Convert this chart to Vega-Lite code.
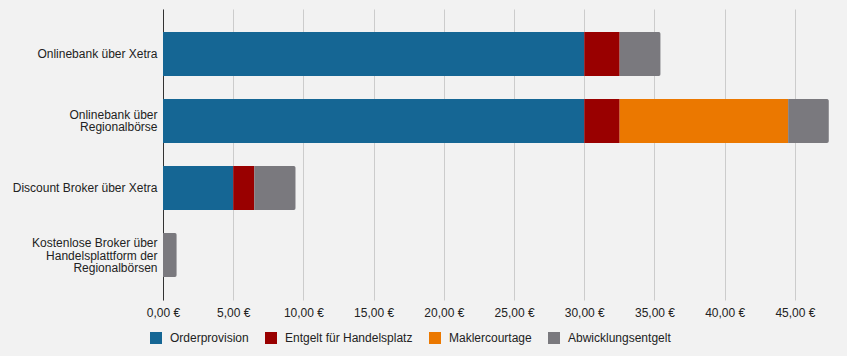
{
  "$schema": "https://vega.github.io/schema/vega-lite/v6.json",
  "width": 667,
  "height": 291,
  "autosize": "none",
  "padding": {"left": 163, "top": 9, "right": 17, "bottom": 56},
  "background": "#f2f2f2",
  "config": {
    "view": {"stroke": null},
    "font": "Liberation Sans",
    "axis": {"labelFont": "Liberation Sans", "labelFontSize": 12, "labelColor": "#222222"},
    "legend": {"labelFont": "Liberation Sans", "labelFontSize": 12, "labelColor": "#222222"}
  },
  "data": {
    "values": [
      {"kat": "Onlinebank über Xetra", "art": "Orderprovision", "nr": 1, "wert": 30.0},
      {"kat": "Onlinebank über Xetra", "art": "Entgelt für Handelsplatz", "nr": 2, "wert": 2.52},
      {"kat": "Onlinebank über Xetra", "art": "Abwicklungsentgelt", "nr": 4, "wert": 2.92},
      {"kat": "Onlinebank über Regionalbörse", "art": "Orderprovision", "nr": 1, "wert": 30.0},
      {"kat": "Onlinebank über Regionalbörse", "art": "Entgelt für Handelsplatz", "nr": 2, "wert": 2.52},
      {"kat": "Onlinebank über Regionalbörse", "art": "Maklercourtage", "nr": 3, "wert": 12.0},
      {"kat": "Onlinebank über Regionalbörse", "art": "Abwicklungsentgelt", "nr": 4, "wert": 2.9},
      {"kat": "Discount Broker über Xetra", "art": "Orderprovision", "nr": 1, "wert": 5.0},
      {"kat": "Discount Broker über Xetra", "art": "Entgelt für Handelsplatz", "nr": 2, "wert": 1.5},
      {"kat": "Discount Broker über Xetra", "art": "Abwicklungsentgelt", "nr": 4, "wert": 2.95},
      {"kat": "Kostenlose Broker über Handelsplattform der Regionalbörsen", "art": "Abwicklungsentgelt", "nr": 4, "wert": 0.98}
    ]
  },
  "mark": {"type": "bar", "cornerRadiusEnd": 2},
  "encoding": {
    "y": {
      "field": "kat",
      "type": "nominal",
      "sort": ["Onlinebank über Xetra", "Onlinebank über Regionalbörse", "Discount Broker über Xetra", "Kostenlose Broker über Handelsplattform der Regionalbörsen"],
      "scale": {"paddingInner": 0.343, "paddingOuter": 0.343},
      "axis": {
        "title": null,
        "ticks": false,
        "domainColor": "#333333",
        "domainWidth": 1,
        "labelPadding": 6,
        "labelLineHeight": 12.5,
        "labelLimit": 200,
        "labelOffset": {"expr": "datum.value == 'Onlinebank über Regionalbörse' ? -6 : datum.value == 'Kostenlose Broker über Handelsplattform der Regionalbörsen' ? -12 : 0"},
        "labelExpr": "datum.value == 'Onlinebank über Regionalbörse' ? ['Onlinebank über', 'Regionalbörse'] : datum.value == 'Kostenlose Broker über Handelsplattform der Regionalbörsen' ? ['Kostenlose Broker über', 'Handelsplattform der', 'Regionalbörsen'] : datum.value"
      }
    },
    "x": {
      "field": "wert",
      "type": "quantitative",
      "stack": "zero",
      "scale": {"domain": [0, 47.5], "nice": false},
      "axis": {
        "title": null,
        "values": [0, 5, 10, 15, 20, 25, 30, 35, 40, 45],
        "domain": false,
        "ticks": false,
        "labelFlush": false,
        "gridColor": "#cccccc",
        "gridWidth": 1,
        "labelPadding": 7,
        "labelExpr": "replace(format(datum.value, '.2f'), '.', ',') + ' €'"
      }
    },
    "color": {
      "field": "art",
      "type": "nominal",
      "scale": {
        "domain": ["Orderprovision", "Entgelt für Handelsplatz", "Maklercourtage", "Abwicklungsentgelt"],
        "range": ["#156694", "#990000", "#eb7800", "#7a797e"]
      },
      "legend": {
        "title": null,
        "orient": "none",
        "direction": "horizontal",
        "legendX": -13,
        "legendY": 323,
        "symbolType": "square",
        "symbolSize": 144,
        "symbolStrokeWidth": 0,
        "symbolOpacity": 1,
        "labelOffset": 8,
        "columnPadding": 16
      }
    },
    "order": {"field": "nr", "type": "quantitative", "sort": "ascending"}
  }
}
